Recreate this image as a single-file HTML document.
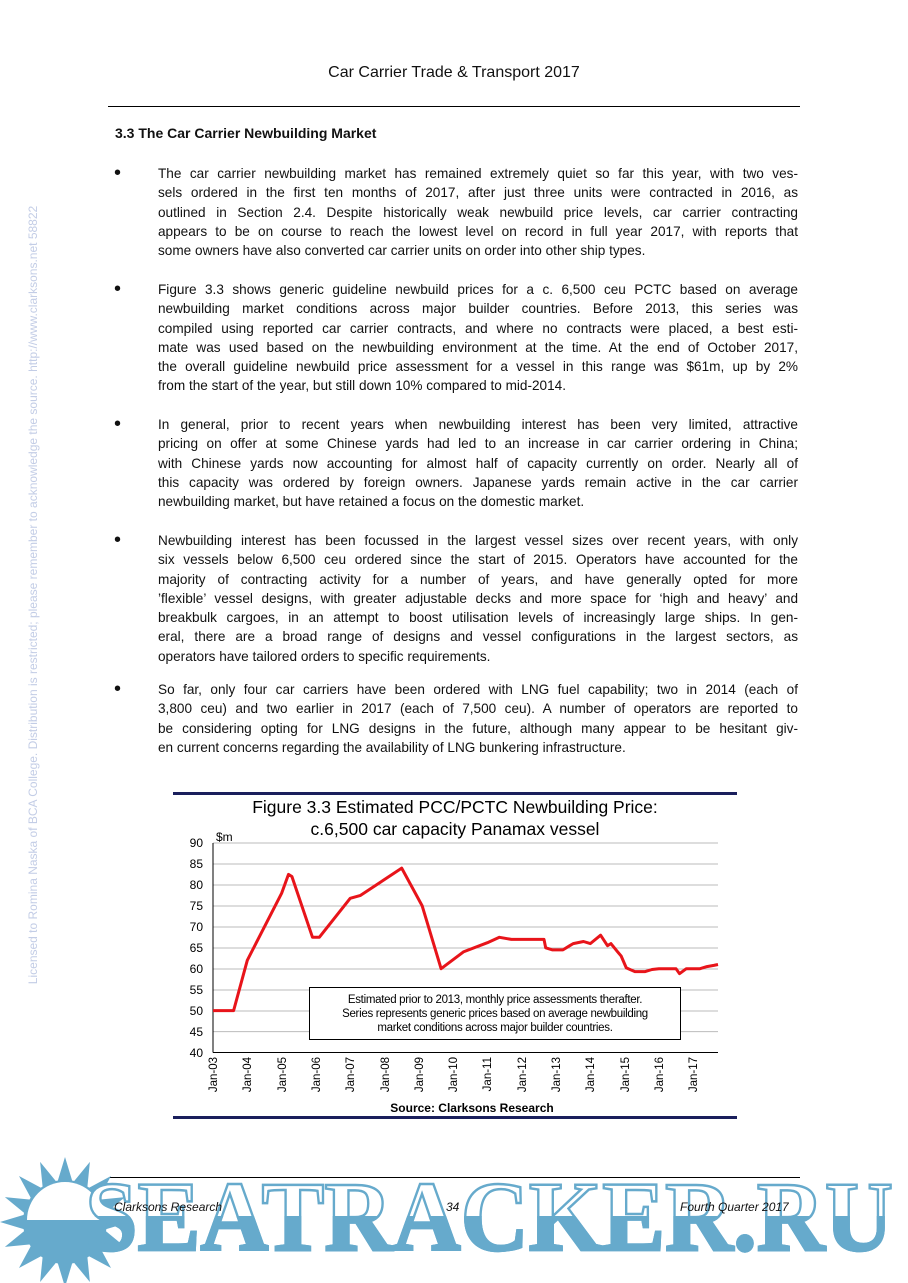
<!DOCTYPE html>
<html><head><meta charset="utf-8"><style>
body{margin:0;background:#fff;}
#pg{position:relative;width:908px;height:1283px;overflow:hidden;font-family:"Liberation Sans",Arial,sans-serif;color:#111;}
.p{position:absolute;left:158px;width:640px;font-size:13.6px;line-height:19.3px;}
.p div{height:19.3px;text-align:justify;text-align-last:justify;}
.p div.e{text-align-last:left;}
.b{position:absolute;left:114px;font-size:20px;line-height:19px;}
</style></head><body><div id="pg">
<div style="position:absolute;top:64px;left:0;width:908px;text-align:center;font-size:16px;">Car Carrier Trade &amp; Transport 2017</div>
<div style="position:absolute;top:106px;left:108px;width:692px;height:1px;background:#000"></div>
<div style="position:absolute;top:125px;left:115px;font-size:14px;font-weight:bold;">3.3 The Car Carrier Newbuilding Market</div>

<div class="b" style="top:164px">•</div>
<div class="p" style="top:164px">
<div>The car carrier newbuilding market has remained extremely quiet so far this year, with two ves-</div>
<div>sels ordered in the first ten months of 2017, after just three units were contracted in 2016, as</div>
<div>outlined in Section 2.4. Despite historically weak newbuild price levels, car carrier contracting</div>
<div>appears to be on course to reach the lowest level on record in full year 2017, with reports that</div>
<div class="e">some owners have also converted car carrier units on order into other ship types.</div>
</div>
<div class="b" style="top:280px">•</div>
<div class="p" style="top:280px">
<div>Figure 3.3 shows generic guideline newbuild prices for a c. 6,500 ceu PCTC based on average</div>
<div>newbuilding market conditions across major builder countries. Before 2013, this series was</div>
<div>compiled using reported car carrier contracts, and where no contracts were placed, a best esti-</div>
<div>mate was used based on the newbuilding environment at the time. At the end of October 2017,</div>
<div>the overall guideline newbuild price assessment for a vessel in this range was $61m, up by 2%</div>
<div class="e">from the start of the year, but still down 10% compared to mid-2014.</div>
</div>
<div class="b" style="top:415px">•</div>
<div class="p" style="top:415px">
<div>In general, prior to recent years when newbuilding interest has been very limited, attractive</div>
<div>pricing on offer at some Chinese yards had led to an increase in car carrier ordering in China;</div>
<div>with Chinese yards now accounting for almost half of capacity currently on order. Nearly all of</div>
<div>this capacity was ordered by foreign owners. Japanese yards remain active in the car carrier</div>
<div class="e">newbuilding market, but have retained a focus on the domestic market.</div>
</div>
<div class="b" style="top:531px">•</div>
<div class="p" style="top:531px">
<div>Newbuilding interest has been focussed in the largest vessel sizes over recent years, with only</div>
<div>six vessels below 6,500 ceu ordered since the start of 2015. Operators have accounted for the</div>
<div>majority of contracting activity for a number of years, and have generally opted for more</div>
<div>’flexible’ vessel designs, with greater adjustable decks and more space for ‘high and heavy’ and</div>
<div>breakbulk cargoes, in an attempt to boost utilisation levels of increasingly large ships. In gen-</div>
<div>eral, there are a broad range of designs and vessel configurations in the largest sectors, as</div>
<div class="e">operators have tailored orders to specific requirements.</div>
</div>
<div class="b" style="top:680px">•</div>
<div class="p" style="top:680px">
<div>So far, only four car carriers have been ordered with LNG fuel capability; two in 2014 (each of</div>
<div>3,800 ceu) and two earlier in 2017 (each of 7,500 ceu). A number of operators are reported to</div>
<div>be considering opting for LNG designs in the future, although many appear to be hesitant giv-</div>
<div class="e">en current concerns regarding the availability of LNG bunkering infrastructure.</div>
</div>

<div style="position:absolute;left:33px;top:595px;width:0;height:0;">
<div style="position:absolute;transform:translate(-50%,-50%) rotate(-90deg);white-space:nowrap;font-size:12px;color:#c3cde6;">Licensed to Romina Naska of BCA College. Distribution is restricted; please remember to acknowledge the source. http://www.clarksons.net 58822</div></div>

<svg style="position:absolute;left:0;top:0" width="908" height="1283" font-family="Liberation Sans, Arial, sans-serif">
<defs><clipPath id="bot"><rect x="0" y="1216" width="908" height="70"/></clipPath></defs>
<rect x="173" y="792" width="564" height="3" fill="#1a1f5c"/>
<rect x="173" y="1116" width="564" height="3" fill="#1a1f5c"/>
<text x="455" y="813" font-size="17.5" text-anchor="middle">Figure 3.3 Estimated PCC/PCTC Newbuilding Price:</text>
<text x="455" y="835" font-size="17.5" text-anchor="middle">c.6,500 car capacity Panamax vessel</text>
<text x="216" y="841" font-size="12">$m</text>
<g stroke="#bbb" stroke-width="1">
<line x1="213" x2="718" y1="843" y2="843"/><line x1="213" x2="718" y1="864" y2="864"/><line x1="213" x2="718" y1="885" y2="885"/><line x1="213" x2="718" y1="906" y2="906"/><line x1="213" x2="718" y1="927" y2="927"/><line x1="213" x2="718" y1="948" y2="948"/><line x1="213" x2="718" y1="969" y2="969"/><line x1="213" x2="718" y1="990" y2="990"/><line x1="213" x2="718" y1="1011" y2="1011"/><line x1="213" x2="718" y1="1031.6" y2="1031.6"/>
</g>
<line x1="213" x2="718" y1="1052.5" y2="1052.5" stroke="#000"/>
<line x1="213" x2="213" y1="843" y2="1052.5" stroke="#000"/>
<g font-size="12" text-anchor="end">
<text x="203" y="847">90</text><text x="203" y="868">85</text><text x="203" y="889">80</text><text x="203" y="910">75</text><text x="203" y="931">70</text><text x="203" y="952">65</text><text x="203" y="973">60</text><text x="203" y="994">55</text><text x="203" y="1015">50</text><text x="203" y="1036">45</text><text x="203" y="1057">40</text>
</g>
<g font-size="11.5" text-anchor="end">
<text transform="translate(217,1057) rotate(-90)">Jan-03</text>
<text transform="translate(251,1057) rotate(-90)">Jan-04</text>
<text transform="translate(286,1057) rotate(-90)">Jan-05</text>
<text transform="translate(320,1057) rotate(-90)">Jan-06</text>
<text transform="translate(354,1057) rotate(-90)">Jan-07</text>
<text transform="translate(389,1057) rotate(-90)">Jan-08</text>
<text transform="translate(423,1057) rotate(-90)">Jan-09</text>
<text transform="translate(457,1057) rotate(-90)">Jan-10</text>
<text transform="translate(491,1057) rotate(-90)">Jan-11</text>
<text transform="translate(526,1057) rotate(-90)">Jan-12</text>
<text transform="translate(560,1057) rotate(-90)">Jan-13</text>
<text transform="translate(594,1057) rotate(-90)">Jan-14</text>
<text transform="translate(629,1057) rotate(-90)">Jan-15</text>
<text transform="translate(663,1057) rotate(-90)">Jan-16</text>
<text transform="translate(697,1057) rotate(-90)">Jan-17</text>
</g>
<polyline fill="none" stroke="#e8141a" stroke-width="3" stroke-linejoin="round" points="213,1010.6 233.6,1010.6 247.3,960.3 281.6,893.3 288.5,874.4 291.9,876.5 312.5,937.3 319.3,937.3 350.2,898.3 360.5,895.4 401.7,868.1 422.2,905.9 441.1,968.7 463.4,951.9 487.4,942.7 499.4,937.3 511.4,939.4 544,939.4 545.7,947.8 552.6,949.9 562.9,949.9 569.7,945.7 573.2,943.6 583.5,941.5 590.3,943.6 600.6,935.2 607.5,945.7 610.9,943.6 617.7,951.9 621.2,956.1 626.3,967.9 634.9,971.6 645.2,971.6 652,969.5 658.9,968.7 676,968.7 679.5,973.7 686.3,968.7 700,968.7 706.9,966.6 713.8,965.4 718,964.5"/>
<rect x="309.5" y="987.5" width="371" height="52" fill="#fff" stroke="#000"/>
<g font-size="11.5" text-anchor="middle" letter-spacing="-0.3">
<text x="495" y="1003">Estimated prior to 2013, monthly price assessments therafter.</text>
<text x="495" y="1017">Series represents generic prices based on average newbuilding</text>
<text x="495" y="1031">market conditions across major builder countries.</text>
</g>
<text x="472" y="1112" font-size="12" font-weight="bold" text-anchor="middle">Source: Clarksons Research</text>

<line x1="110" x2="800" y1="1177.5" y2="1177.5" stroke="#000"/>
<polygon fill="#66aacc" points="130,1222 104.2,1214.2 125,1197.1 98.2,1199.8 111,1176 87.2,1188.8 89.9,1161.9 72.8,1182.8 65,1157 57.2,1182.8 40.1,1161.9 42.8,1188.8 19,1176 31.8,1199.8 4.9,1197.1 25.8,1214.2 0,1222 25.8,1229.8 4.9,1246.9 31.8,1244.2 19,1268 42.8,1255.2 40.1,1282 57.2,1261.2 65,1287 72.8,1261.2 89.9,1282 87.2,1255.2 111,1268 98.2,1244.2 125,1246.9 104.2,1229.8"/>
<circle cx="65" cy="1222" r="42" fill="#66aacc"/>
<path d="M27,1220 A38,38 0 0 1 103,1220 Z" fill="#fff"/>
<text x="85" y="1250" font-family="Liberation Serif, serif" font-weight="bold" font-size="100" fill="#fff" stroke="#66aacc" stroke-width="2.5" textLength="808" lengthAdjust="spacingAndGlyphs">SEATRACKER.RU</text>
<text x="85" y="1250" font-family="Liberation Serif, serif" font-weight="bold" font-size="100" fill="#66aacc" stroke="#66aacc" stroke-width="2.5" textLength="808" lengthAdjust="spacingAndGlyphs" clip-path="url(#bot)">SEATRACKER.RU</text>
<g font-size="12" font-style="italic" fill="#111">
<text x="114" y="1211">Clarksons Research</text>
<text x="446" y="1211">34</text>
<text x="680" y="1211">Fourth Quarter 2017</text>
</g>
</svg>
</div></body></html>
